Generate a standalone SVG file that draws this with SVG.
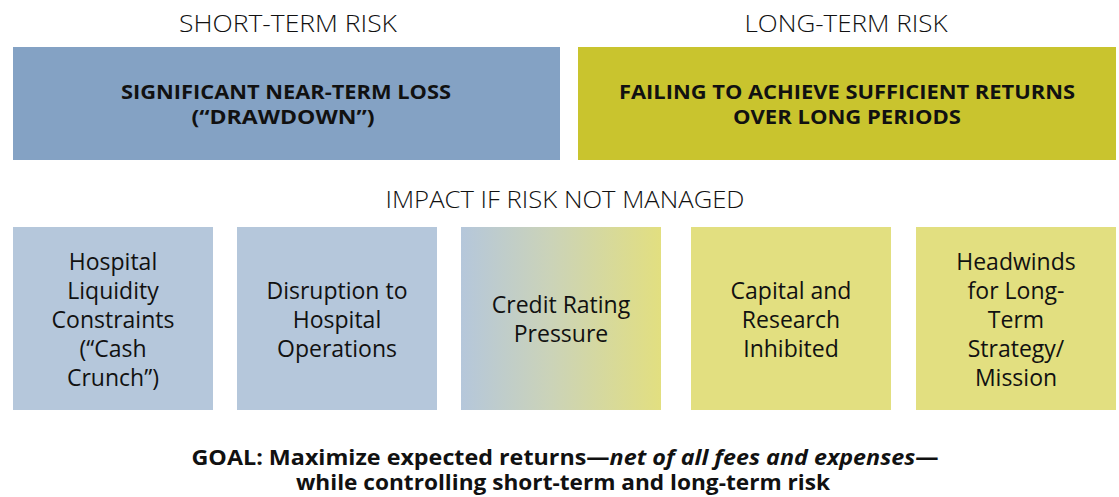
<svg xmlns="http://www.w3.org/2000/svg" width="1119" height="497" viewBox="0 0 1119 497">
<defs>
<linearGradient id="grad" x1="0" y1="0" x2="1" y2="0">
<stop offset="0" stop-color="#b5c7db"/>
<stop offset="0.45" stop-color="#cbd3b8"/>
<stop offset="1" stop-color="#e2df80"/>
</linearGradient>
<style>
text{font-family:"Open Sans","Noto Sans","DejaVu Sans",sans-serif;fill:#111;text-anchor:middle}
.hdr{font-size:23.5px;font-weight:300}
.top{font-size:19.5px;font-weight:700}
.imp{font-size:23px;font-weight:400}
.goal{font-size:21px;font-weight:700}
.blue{fill:#b5c7db}
.yel{fill:#e2df80}
</style>
</defs>
<rect width="1119" height="497" fill="#fff"/>
<g id="headers">
<text class="hdr" x="288" y="32" textLength="218" lengthAdjust="spacingAndGlyphs">SHORT-TERM RISK</text>
<text class="hdr" x="846" y="32" textLength="203" lengthAdjust="spacingAndGlyphs">LONG-TERM RISK</text>
<text class="hdr" x="565" y="208" textLength="359" lengthAdjust="spacingAndGlyphs">IMPACT IF RISK NOT MANAGED</text>
</g>
<g id="short-term">
<rect x="13" y="47" width="547" height="113" fill="#84a2c4"/>
<text class="top" x="286" y="99" textLength="330" lengthAdjust="spacingAndGlyphs">SIGNIFICANT NEAR-TERM LOSS</text>
<text class="top" x="283" y="124" textLength="183" lengthAdjust="spacingAndGlyphs">(“DRAWDOWN”)</text>
</g>
<g id="long-term">
<rect x="578" y="47" width="538" height="113" fill="#c9c42e"/>
<text class="top" x="847" y="99" textLength="456" lengthAdjust="spacingAndGlyphs">FAILING TO ACHIEVE SUFFICIENT RETURNS</text>
<text class="top" x="847" y="124" textLength="228" lengthAdjust="spacingAndGlyphs">OVER LONG PERIODS</text>
</g>
<g id="impact1">
<rect class="blue" x="13" y="227" width="200" height="183"/>
<text class="imp" x="113" y="270">Hospital</text>
<text class="imp" x="113" y="299">Liquidity</text>
<text class="imp" x="113" y="328">Constraints</text>
<text class="imp" x="113" y="357">(“Cash</text>
<text class="imp" x="113" y="386">Crunch”)</text>
</g>
<g id="impact2">
<rect class="blue" x="237" y="227" width="200" height="183"/>
<text class="imp" x="337" y="299">Disruption to</text>
<text class="imp" x="337" y="328">Hospital</text>
<text class="imp" x="337" y="357">Operations</text>
</g>
<g id="impact3">
<rect fill="url(#grad)" x="461" y="227" width="200" height="183"/>
<text class="imp" x="561" y="313">Credit Rating</text>
<text class="imp" x="561" y="342">Pressure</text>
</g>
<g id="impact4">
<rect class="yel" x="691" y="227" width="200" height="183"/>
<text class="imp" x="791" y="299">Capital and</text>
<text class="imp" x="791" y="328">Research</text>
<text class="imp" x="791" y="357">Inhibited</text>
</g>
<g id="impact5">
<rect class="yel" x="916" y="227" width="200" height="183"/>
<text class="imp" x="1016" y="270">Headwinds</text>
<text class="imp" x="1016" y="299">for Long-</text>
<text class="imp" x="1016" y="328">Term</text>
<text class="imp" x="1016" y="357">Strategy/</text>
<text class="imp" x="1016" y="386">Mission</text>
</g>
<g id="goal">
<text class="goal" x="565" y="465" textLength="747" lengthAdjust="spacingAndGlyphs">GOAL: Maximize expected returns—<tspan font-style="italic">net of all fees and expenses</tspan>—</text>
<text class="goal" x="563" y="490" textLength="534" lengthAdjust="spacingAndGlyphs">while controlling short-term and long-term risk</text>
</g>
<g id="connectors"></g>
</svg>
